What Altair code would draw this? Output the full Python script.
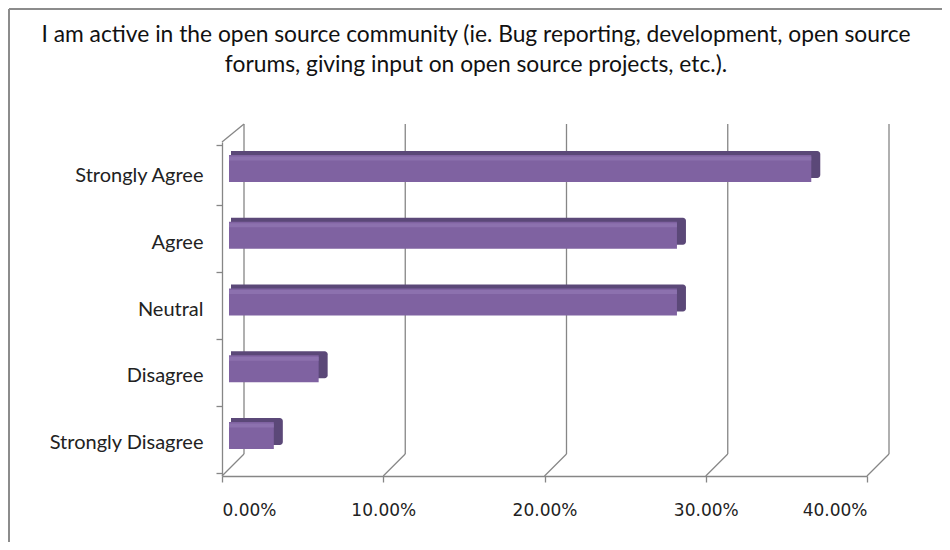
import altair as alt
import pandas as pd

categories = ["Strongly Agree", "Agree", "Neutral", "Disagree", "Strongly Disagree"]
values = [0.3611, 0.2778, 0.2778, 0.0556, 0.0278]
ticks = [0.0, 0.1, 0.2, 0.3, 0.4]
title_lines = [
    "I am active in the open source community (ie. Bug reporting, development, open source",
    "forums, giving input on open source projects, etc.).",
]

W, H = 645, 334
DX, DY = 22, 18  # 3D depth of the back wall

df = pd.DataFrame({"cat": categories, "val": values, "start": [0.0] * len(values)})
tdf = pd.DataFrame({"t": ticks})
ttl = pd.DataFrame({"line": title_lines, "i": [0, 1]})

xs = alt.Scale(domain=[0, 0.4], nice=False, zero=True)
ys = alt.Scale(domain=categories)
GRID = "#868686"

# back gridlines
grid = alt.Chart(tdf).mark_rule(color=GRID, strokeWidth=1.3, xOffset=DX, clip=False).encode(
    x=alt.X("t:Q", scale=xs),
    y=alt.value(-DY),
    y2=alt.value(H - DY - 4),
)
# diagonals on floor
diag = alt.Chart(tdf).mark_rule(color=GRID, strokeWidth=1.3, x2Offset=DX, clip=False).encode(
    x=alt.X("t:Q", scale=xs),
    x2="t:Q",
    y=alt.value(H),
    y2=alt.value(H - DY - 4),
)
# top-left diagonal of the side wall
wall_top = alt.Chart(tdf.iloc[[0]]).mark_rule(color=GRID, strokeWidth=1.3, x2Offset=DX, clip=False).encode(
    x=alt.X("t:Q", scale=xs),
    x2="t:Q",
    y=alt.value(0),
    y2=alt.value(-DY),
)
# wall shading
wall_shade = alt.Chart(tdf.iloc[[0]]).mark_rule(
    strokeWidth=7, xOffset=12, clip=False, opacity=0.7,
    color=alt.Gradient(gradient="linear", x1=0, x2=0, y1=0, y2=1,
                       stops=[alt.GradientStop(color="#f4f4f4", offset=0),
                              alt.GradientStop(color="#bdbdbd", offset=0.5),
                              alt.GradientStop(color="#f4f4f4", offset=1)]),
).encode(
    x=alt.X("t:Q", scale=xs),
    y=alt.value(-8),
    y2=alt.value(H - 12),
)

def bar_layer(color, size, x_off, x2_off, y_off, **kw):
    return alt.Chart(df).mark_bar(size=size, color=color, xOffset=x_off, x2Offset=x2_off,
                                  yOffset=y_off, clip=False, **kw).encode(
        y=alt.Y("cat:N", scale=ys),
        x=alt.X("start:Q", scale=xs),
        x2="val:Q",
    )

# top / side face (darker), front face, and highlight stripe
bar_back = bar_layer("#5b4878", 27, 9, 16, -11, cornerRadiusTopRight=3, cornerRadiusBottomRight=3)
bar_front = bar_layer("#7f62a1", 27, 7, 7, -7)
bar_hi = bar_layer("#8c71ae", 4, 7, 7, -17)

# axes layer (front)
axes = alt.Chart(df).mark_bar(opacity=0, size=1).encode(
    y=alt.Y("cat:N", scale=ys, title=None,
            axis=alt.Axis(labelFont="Lato", labelFontSize=20, labelColor="#222222",
                          labelPadding=13, tickSize=6, tickColor=GRID, domainColor=GRID,
                          domainWidth=1.3, tickWidth=1.3, tickBand="extent", labelLimit=300)),
    x=alt.X("val:Q", scale=xs, title=None,
            axis=alt.Axis(values=ticks, format=".2%", labelFont="DejaVu Sans", labelFontSize=17,
                          labelColor="#222222", labelPadding=20, tickSize=6, tickColor=GRID,
                          domainColor=GRID, domainWidth=1.3, tickWidth=1.3, grid=False)),
)

# title as text, one layer per line
def title_line(i, y):
    return alt.Chart(ttl).transform_filter(alt.datum.i == i).mark_text(
        font="Lato", fontSize=22.8, color="#111111", baseline="middle", align="center", clip=False
    ).encode(text="line:N", x=alt.value(254), y=alt.value(y))

title1 = title_line(0, -107)
title2 = title_line(1, -77)

# outer frame (top and left edges)
frame_top = alt.Chart(tdf.iloc[[0]]).mark_rule(color="#8c8c8c", strokeWidth=2, clip=False).encode(
    x=alt.value(-213), x2=alt.value(800), y=alt.value(-133))
frame_left = alt.Chart(tdf.iloc[[0]]).mark_rule(color="#8c8c8c", strokeWidth=2, clip=False).encode(
    x=alt.value(-213), y=alt.value(-133), y2=alt.value(500))

chart = alt.layer(
    frame_top, frame_left, wall_shade, grid, diag, wall_top, bar_back, bar_front, bar_hi, axes,
    title1, title2
).properties(
    width=W, height=H,
    autosize=alt.AutoSizeParams(type="none"),
    padding={"left": 214, "top": 134, "right": 75, "bottom": 66},
).configure_view(stroke=None)

chart.save("out.html", embed_options={"renderer": "svg", "actions": False})
